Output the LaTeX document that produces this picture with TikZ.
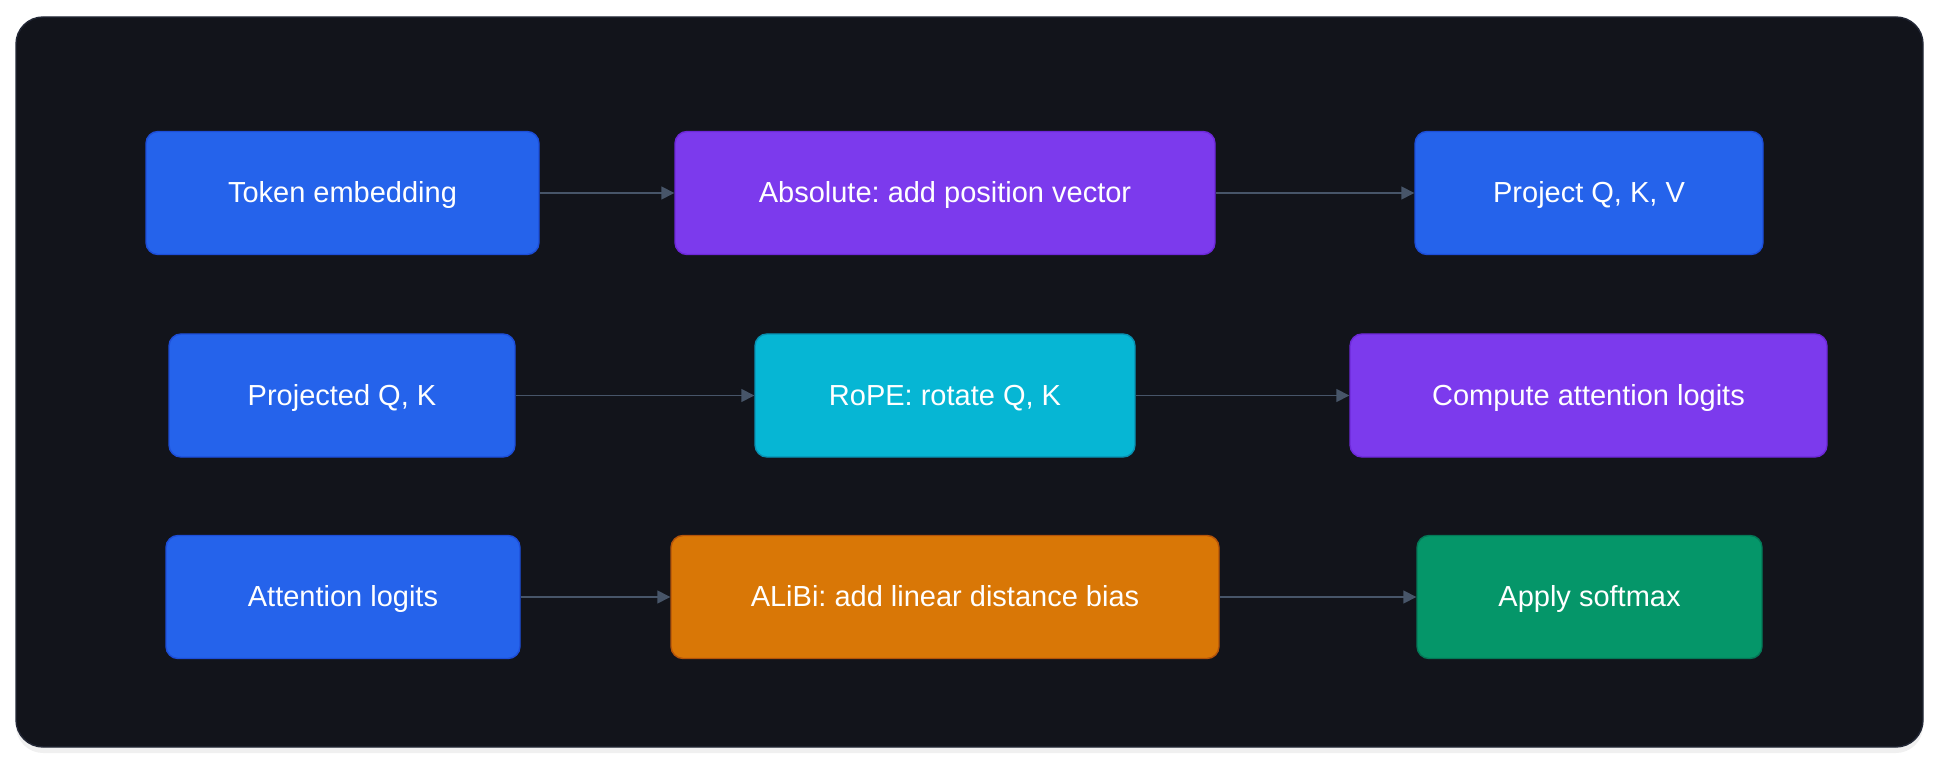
\documentclass[tikz,border=0pt]{standalone}
\usepackage{fontspec}
\setmainfont{Liberation Sans}
\usetikzlibrary{arrows.meta,shadows}
\frenchspacing

\definecolor{panelbg}{HTML}{12141B}
\definecolor{panelrim}{HTML}{232836}
\definecolor{linkgray}{HTML}{475569}
\definecolor{blueA}{HTML}{2563EB}
\definecolor{blueB}{HTML}{1D4ED8}
\definecolor{purpleA}{HTML}{7C3AED}
\definecolor{purpleB}{HTML}{6D28D9}
\definecolor{cyanA}{HTML}{06B6D4}
\definecolor{cyanB}{HTML}{0891B2}
\definecolor{orangeA}{HTML}{D97706}
\definecolor{orangeB}{HTML}{B45309}
\definecolor{greenA}{HTML}{059669}
\definecolor{greenB}{HTML}{047857}

\begin{document}
\begin{tikzpicture}[
        block/.style={rectangle, draw, line width=0.8pt, rounded corners=0.24cm, text=white, text centered, font=\fontsize{16.5}{20}\selectfont, text height=1.1em, text depth=0em, minimum height=2.46cm},
        blueblock/.style={block, fill=blueA, draw=blueB},
        purpleblock/.style={block, fill=purpleA, draw=purpleB},
        cyanblock/.style={block, fill=cyanA, draw=cyanB},
        orangeblock/.style={block, fill=orangeA, draw=orangeB},
        greenblock/.style={block, fill=greenA, draw=greenB},
        every edge/.style={draw, linkgray, line width=0.85pt, -{Triangle[length=0.26cm,width=0.26cm]}}
    ]
        \useasboundingbox (0,0) rectangle (38.8,-15.28);
        % Panel
        \fill[panelbg, draw=panelrim, line width=0.8pt, rounded corners=0.54cm,
              drop shadow={opacity=0.12, shadow xshift=0pt, shadow yshift=-0.12cm}]
            (0.32,-0.34) rectangle (38.46,-14.94);

        % Row 1: absolute
        \node[blueblock, minimum width=7.86cm] (token) at (6.85, -3.86) {Token embedding};
        \node[purpleblock, minimum width=10.8cm] (absolute) at (18.9, -3.86) {Absolute: add position vector};
        \node[blueblock, minimum width=6.96cm] (project) at (31.78, -3.86) {Project Q, K, V};

        % Row 2: rope
        \node[blueblock, minimum width=6.92cm] (projected) at (6.84, -7.91) {Projected Q, K};
        \node[cyanblock, minimum width=7.6cm] (rope) at (18.9, -7.91) {RoPE: rotate Q, K};
        \node[purpleblock, minimum width=9.54cm] (compute) at (31.77, -7.91) {Compute attention logits};

        % Row 3: alibi
        \node[blueblock, minimum width=7.08cm] (logits) at (6.86, -11.94) {Attention logits};
        \node[orangeblock, minimum width=10.96cm] (alibi) at (18.9, -11.94) {ALiBi: add linear distance bias};
        \node[greenblock, minimum width=6.9cm] (softmax) at (31.79, -11.94) {Apply softmax};

        % Edges
        \path
            (token) edge (absolute)
            (absolute) edge (project)
            (projected) edge (rope)
            (rope) edge (compute)
            (logits) edge (alibi)
            (alibi) edge (softmax);
    \end{tikzpicture}
\end{document}
